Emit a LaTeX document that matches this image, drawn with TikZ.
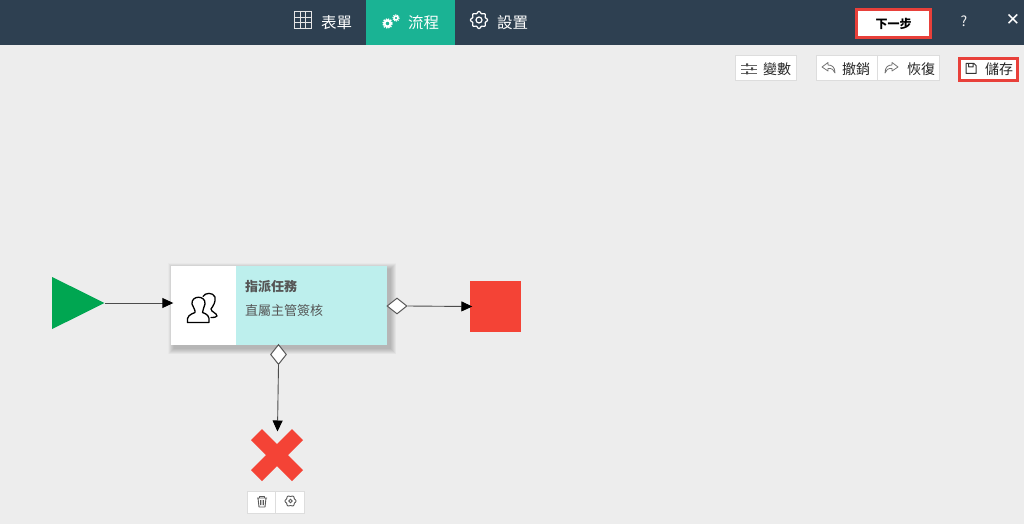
\documentclass[tikz,border=0pt]{standalone}
\usepackage{fontspec}
\setmainfont{Noto Sans CJK TC}
\newfontfamily\dejavu{DejaVu Sans}
\usetikzlibrary{shapes.geometric,arrows.meta,calc}
\definecolor{barc}{HTML}{2E4051}
\definecolor{tealc}{HTML}{1AB394}
\definecolor{bgc}{HTML}{EDEDED}
\definecolor{redb}{HTML}{E8403A}
\definecolor{redf}{HTML}{F44336}
\definecolor{greenf}{HTML}{00A651}
\definecolor{cyanf}{HTML}{BDEFED}
\definecolor{btnb}{HTML}{DDDDDD}
\definecolor{txtg}{HTML}{555555}
\tikzset{
  x=1pt,y=-1pt,
  navtext/.style={text=white,font=\fontsize{15.5}{17}\selectfont,inner sep=0pt,anchor=west},
  btntext/.style={text=black!85,font=\fontsize{14}{16}\selectfont,inner sep=0pt,anchor=west},
  btnbox/.style={draw=btnb,line width=1pt,fill=white},
  flow/.style={draw=black!70,line width=.9pt,-{Triangle[length=11pt,width=10pt,black]},shorten >=-2.5pt},
  dia/.style={diamond,draw=black!65,line width=1pt,fill=white,inner sep=0pt,aspect=1},
  icon/.style={draw=#1,line width=1pt,fill=none},
  icon/.default=black!70,
}
\begin{document}
\begin{tikzpicture}
\useasboundingbox (0,0) rectangle (1024,524);
\fill[bgc] (0,0) rectangle (1024,524);
% top bar
\fill[barc] (0,0) rectangle (1024,45);
\fill[tealc] (366,0) rectangle (455,45);
% grid icon
\draw[icon=white!90!black] (294.5,12) rectangle (311,28.5);
\draw[icon=white!90!black] (300,12) -- (300,28.5) (305.5,12) -- (305.5,28.5) (294.5,17.5) -- (311,17.5) (294.5,23) -- (311,23);
\node[navtext] (tabform) at (321,22.5) {表單};
% gears icon
\draw[white,line width=2pt,fill=none] (387.5,23.5) circle (3);
\draw[white,line width=1.4pt,densely dotted] (387.5,23.5) circle (4.6);
\draw[white,line width=1.5pt] (396,18) circle (2);
\draw[white,line width=1pt,densely dotted] (396,18) circle (3.2);
\node[navtext] (tabflow) at (408,22.5) {流程};
% gear icon
\draw[white,line width=1.2pt] plot[domain=0:360,samples=121,smooth] ({479+(7.6+0.9*cos(8*\x))*cos(\x)},{20+(7.6+0.9*cos(8*\x))*sin(\x)}) -- cycle;
\draw[white,line width=1.2pt] (479,20) circle (3);
\node[navtext] (tabset) at (497,22.5) {設置};
% next button
\node[draw=redb,line width=3pt,fill=white,minimum width=74pt,minimum height=28pt,inner sep=0pt,font=\fontsize{12}{14}\selectfont\bfseries,text=black] (nextb) at (893.5,23.5) {下一步};
\node[text=white!95!black,font=\fontsize{14}{16}\selectfont,inner sep=0pt] (help) at (964,21.5) {?};
\node[text=white,font=\dejavu\fontsize{17}{19}\selectfont,inner sep=0pt] (closeb) at (1013,20) {✕};
% toolbar
\draw[btnbox] (735,56) rectangle (796,81);
\draw[black!60,line width=.8pt] (741,65) -- (757,65) (741,69) -- (757,69) (741,73) -- (757,73);
\fill[black!70] (746,63.5) rectangle (748,66.5) (751,67.5) rectangle (753,70.5) (746,71.5) rectangle (748,74.5);
\node[btntext] (varb) at (763,69) {變數};
\draw[btnbox] (816,56) rectangle (939,81);
\draw[btnb,line width=1pt] (877.5,56) -- (877.5,81);
\draw[black!55,line width=.8pt,line join=round] (828,62.5) -- (822,67) -- (828,71) -- (828,68.5) .. controls (832,68) and (834,70) .. (835,73) .. controls (835,67) and (832,65) .. (828,65) -- cycle;
\node[btntext] (undob) at (842,69) {撤銷};
\draw[black!55,line width=.8pt,line join=round] (892,62.5) -- (898,67) -- (892,71) -- (892,68.5) .. controls (888,68) and (886,70) .. (885,73) .. controls (885,67) and (888,65) .. (892,65) -- cycle;
\node[btntext] (redob) at (907,69) {恢復};
\node[draw=redb,line width=3pt,fill=white,minimum width=58pt,minimum height=22pt,inner sep=0pt] (saveb) at (988,69.5) {};
\draw[black!80,line width=1pt,line join=round] (966,63.5) -- (974,63.5) -- (976,65.5) -- (976,73.5) -- (966,73.5) -- cycle (968.5,63.5) -- (968.5,67) -- (973,67) -- (973,63.5);
\node[btntext] (savet) at (985,69) {儲存};
% flow shapes
\node[isosceles triangle,isosceles triangle apex angle=53,shape border rotate=0,fill=greenf,minimum height=52pt,minimum width=52pt,inner sep=0pt,anchor=west] (start) at (52,303) {};
% task box with soft shadow
\foreach \i in {6,5.5,...,0.5}{
  \fill[black,opacity=.02] ($(171,266)+(3-\i,3-\i)$) rectangle ($(387,345)+(3+\i,3+\i)$);
}
\fill[white] (171,266) rectangle (235.5,345);
\fill[cyanf] (235.5,266) rectangle (387,345);
\node[inner sep=0pt,minimum width=216pt,minimum height=79pt] (task) at (279,305.5) {};
\node[inner sep=0pt,anchor=west,text=txtg,font=\fontsize{13}{15}\selectfont\bfseries] (tasktitle) at (245,286.5) {指派任務};
\node[inner sep=0pt,anchor=west,text=txtg,font=\fontsize{13}{15}\selectfont] (tasksub) at (245,311) {直屬主管簽核};
% users icon
\draw[black,line width=1.3pt,line join=round,line cap=round] (203,296.5) .. controls (205,292.5) and (213,292) .. (215,297) .. controls (216,302) and (213,306) .. (211,309) .. controls (211,312) and (217,313) .. (217,316) .. controls (216,317.5) and (214,317.5) .. (211,317.5);
\draw[black,line width=1.3pt,line join=round,fill=white] (187.5,322.5) .. controls (186.5,316) and (190,314.5) .. (195,312.5) .. controls (195.5,310) and (193,307) .. (192,304) .. controls (191,295) and (206,295) .. (205,304) .. controls (204.5,307) and (202.5,309.5) .. (202.5,312.5) .. controls (207,314) and (210,316) .. (209,322.5) -- cycle;
% end square
\node[fill=redf,minimum size=51pt,inner sep=0pt] (endn) at (495.5,306.5) {};
% cancel cross
\coordinate (crossc) at (277,455);
\fill[redf] (crossc) ++(-26,-15) -- ++(11,-11) -- ++(15,15) -- ++(15,-15) -- ++(11,11) -- ++(-15,15) -- ++(15,15) -- ++(-11,11) -- ++(-15,-15) -- ++(-15,15) -- ++(-11,-11) -- ++(15,-15) -- cycle;
\node[inner sep=0pt,minimum size=52pt] (cross) at (crossc) {};
% connectors
\draw[flow] (start.east) -- (task.west |- start.east);
\node[dia,minimum width=20pt,minimum height=16pt] (d1) at (397,306) {};
\node[dia,minimum width=16pt,minimum height=20pt] (d2) at (278.5,354.5) {};
\draw[flow] (d1.east) -- (endn.west);
\draw[flow] (d2.south) -- (277.5,429);
% mini toolbar
\draw[btnbox] (247.5,491.5) rectangle (304,513);
\draw[btnb,line width=1pt] (275.5,491.5) -- (275.5,513);
\draw[black!65,line width=.9pt,line join=round] (257,498) -- (267,498) (259.5,498) -- (259.5,496.5) -- (264.5,496.5) -- (264.5,498) (258,498) -- (259,507) -- (265,507) -- (266,498) (260.5,500) -- (260.5,505) (262,500) -- (262,505) (263.5,500) -- (263.5,505);
\draw[black!65,line width=.9pt] plot[domain=0:360,samples=91,smooth] ({290.5+(5+0.5*cos(6*\x))*cos(\x)},{501+(5+0.5*cos(6*\x))*sin(\x)}) -- cycle;
\draw[black!65,line width=.9pt] (290.5,501) circle (1.8);
\end{tikzpicture}
\end{document}
